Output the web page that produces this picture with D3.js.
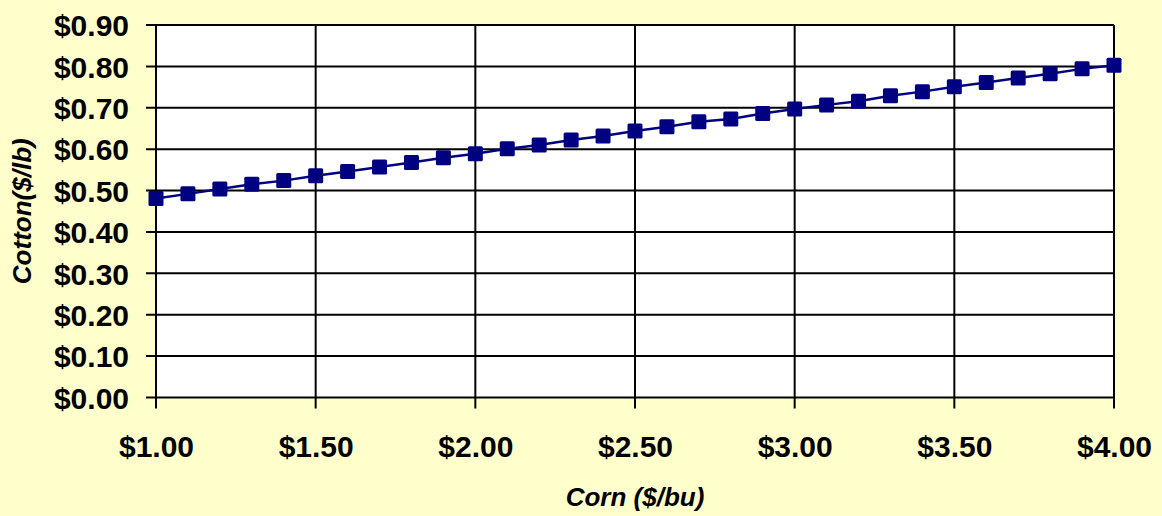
<!DOCTYPE html>
<html>
<head>
<meta charset="utf-8">
<script src="https://cdn.jsdelivr.net/npm/d3@7"></script>
<style>
  html, body { margin: 0; padding: 0; background: #FFFFCC; }
  svg { display: block; }
  text { font-family: "Liberation Sans", Arial, sans-serif; font-weight: bold; fill: #000; }
</style>
</head>
<body>
<svg id="chart" width="1162" height="516"></svg>
<script>
// Data
const cornPrices = [1.0,1.1,1.2,1.3,1.4,1.5,1.6,1.7,1.8,1.9,2.0,2.1,2.2,2.3,2.4,2.5,2.6,2.7,2.8,2.9,3.0,3.1,3.2,3.3,3.4,3.5,3.6,3.7,3.8,3.9,4.0];
const cottonPrices = [0.481,0.492,0.504,0.515,0.524,0.536,0.546,0.557,0.568,0.579,0.589,0.601,0.610,0.622,0.632,0.644,0.654,0.666,0.673,0.686,0.697,0.707,0.716,0.729,0.739,0.751,0.761,0.772,0.782,0.794,0.803];
const xTicks = [1.0,1.5,2.0,2.5,3.0,3.5,4.0];
const yTicks = [0,0.1,0.2,0.3,0.4,0.5,0.6,0.7,0.8,0.9];
const xTitle = "Corn ($/bu)";
const yTitle = "Cotton($/lb)";

const W = 1162, H = 516;
const m = { left: 156, right: 48, top: 25, bottom: 118.5 };
const svg = d3.select("#chart");

const x = d3.scaleLinear().domain([1, 4]).range([m.left, W - m.right]);
const y = d3.scaleLinear().domain([0, 0.9]).range([H - m.bottom, m.top]);
const fmt = d => "$" + d3.format(".2f")(d);

// plot background
svg.append("rect")
  .attr("x", x(1)).attr("y", y(0.9))
  .attr("width", x(4) - x(1)).attr("height", y(0) - y(0.9))
  .attr("fill", "#fff");

// gridlines
const grid = svg.append("g");
grid.selectAll("line.h").data(yTicks).enter().append("line")
  .attr("x1", x(1) - 10).attr("x2", x(4))
  .attr("y1", d => y(d)).attr("y2", d => y(d))
  .attr("stroke", "#000").attr("stroke-width", 2);
grid.selectAll("line.v").data(xTicks).enter().append("line")
  .attr("x1", d => x(d)).attr("x2", d => x(d))
  .attr("y1", y(0.9)).attr("y2", y(0) + 11)
  .attr("stroke", "#000").attr("stroke-width", 2);

// y axis labels
const yAxis = d3.axisLeft(y).tickValues(yTicks).tickFormat(fmt).tickSize(0).tickPadding(27);
const gy = svg.append("g").attr("transform", `translate(${x(1)},0)`).call(yAxis);
gy.select(".domain").remove();
gy.selectAll("text").style("font-size", "30px").attr("dy", "0.36em")
  .style("font-family", "'Liberation Sans', Arial, sans-serif").style("font-weight", "bold").attr("fill", "#000");

// x axis labels
const xAxis = d3.axisBottom(x).tickValues(xTicks).tickFormat(fmt).tickSize(0).tickPadding(0);
const gx = svg.append("g").attr("transform", `translate(0,${y(0)})`).call(xAxis);
gx.select(".domain").remove();
gx.selectAll("text").style("font-size", "30px").attr("dy", null).attr("y", 59)
  .style("font-family", "'Liberation Sans', Arial, sans-serif").style("font-weight", "bold").attr("fill", "#000");

// series line
const pts = cornPrices.map((c, i) => [c, cottonPrices[i]]);
svg.append("path")
  .datum(pts)
  .attr("fill", "none")
  .attr("stroke", "#000080")
  .attr("stroke-width", 2.5)
  .attr("d", d3.line().x(d => x(d[0])).y(d => y(d[1])));

// markers
const s = 15;
svg.append("g").selectAll("rect").data(pts).enter().append("rect")
  .attr("x", d => x(d[0]) - s / 2).attr("y", d => y(d[1]) - s / 2)
  .attr("width", s).attr("height", s).attr("rx", 1.5)
  .attr("fill", "#000080");

// axis titles
svg.append("text")
  .attr("x", (x(1) + x(4)) / 2).attr("y", 506)
  .attr("text-anchor", "middle")
  .style("font-size", "26px").style("font-style", "italic")
  .text(xTitle);
svg.append("text")
  .attr("transform", `translate(31,${(y(0) + y(0.9)) / 2}) rotate(-90)`)
  .attr("text-anchor", "middle")
  .style("font-size", "26px").style("font-style", "italic")
  .text(yTitle);
</script>
</body>
</html>
